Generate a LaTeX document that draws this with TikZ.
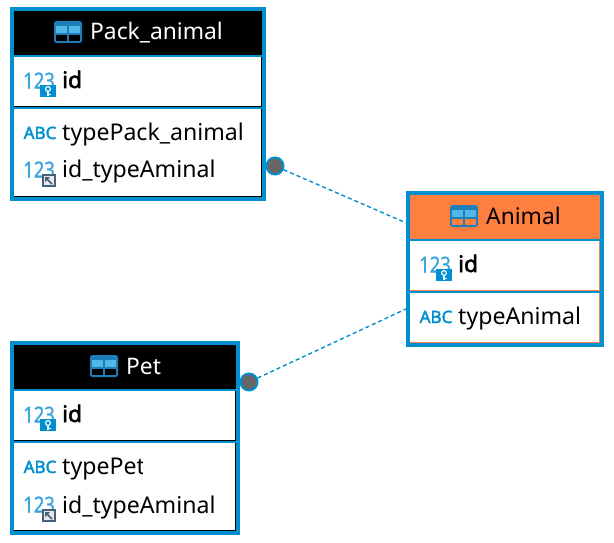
\documentclass[tikz,border=0pt]{standalone}
\usepackage{graphicx}
\usepackage{fontspec}
\setmainfont{Noto Sans}
\newfontfamily\heavyfont{Noto Sans}[FakeBold=2.2]
\newfontfamily\midfont{Noto Sans}[FakeBold=0.9]
\newcommand{\numtext}{\scalebox{0.84}[1]{123}}
\definecolor{frame}{HTML}{0090D0}
\definecolor{iconlight}{HTML}{4FB8E6}
\definecolor{icondark}{HTML}{1E7FB8}
\definecolor{numblue}{HTML}{3AA4DC}
\definecolor{headorange}{HTML}{FF7F3F}
\definecolor{dotgray}{HTML}{666666}
\definecolor{badgegray}{HTML}{4A5F7A}
\tikzset{
  entity/.style={draw=frame,line width=4pt,fill=frame,inner sep=0pt,rectangle},
  fieldtext/.style={anchor=base west,inner sep=0pt,font=\fontsize{23.1}{24}\selectfont,text=black},
  keytext/.style={anchor=base west,inner sep=0pt,font=\heavyfont\fontsize{22.8}{24}\selectfont,text=black},
  headtext/.style={anchor=base west,inner sep=0pt,font=\fontsize{22.8}{24}\selectfont},
  numicon/.style={anchor=base west,inner sep=0pt,text=numblue,font=\midfont\fontsize{22}{24}\selectfont},
  abcicon/.style={anchor=base west,inner sep=0pt,text=frame,font=\heavyfont\fontsize{17}{18}\selectfont},
  relation/.style={draw=frame,line width=1.4pt,dash pattern=on 4pt off 3pt},
  dot/.style={circle,draw=frame,line width=2pt,fill=dotgray,minimum size=17pt,inner sep=0pt},
}
% #1 left, #2 right, #3 outer top, #4 pane-3 bottom, #5 header fill, #6 rule colour
\newcommand{\panes}[6]{%
  \fill[#5] (#1,#3+4) rectangle (#2,#3+48);
  \fill[#6] (#1,#3+50) rectangle (#2,#3+100);
  \fill[white] (#1,#3+50) rectangle (#2-1,#3+99);
  \fill[#6] (#1,#3+102) rectangle (#2,#4);
  \fill[white] (#1,#3+102) rectangle (#2-1,#4-1);
}
% #1 x, #2 y (top-left), #3 inner cell colour
\newcommand{\tableicon}[3]{%
  \fill[icondark,rounded corners=2.5pt] (#1,#2) rectangle (#1+28,#2+22);
  \fill[iconlight] (#1+2,#2+5) rectangle (#1+13,#2+12);
  \fill[iconlight] (#1+15,#2+5) rectangle (#1+26,#2+12);
  \fill[#3] (#1+2,#2+14) rectangle (#1+13,#2+20);
  \fill[#3] (#1+15,#2+14) rectangle (#1+26,#2+20);
}
\newcommand{\keybadge}[2]{%
  \fill[frame] (#1,#2) rectangle (#1+16,#2+12);
  \draw[white,line width=1.2pt] (#1+8,#2+4) circle (2.4pt);
  \draw[white,line width=1.2pt] (#1+8,#2+6.5) -- (#1+8,#2+11) (#1+8,#2+9.5) -- (#1+10.5,#2+9.5);
}
\newcommand{\linkbadge}[2]{%
  \fill[badgegray] (#1,#2) rectangle (#1+14,#2+13);
  \fill[white!85!badgegray] (#1+2,#2+2) rectangle (#1+12,#2+11);
  \draw[badgegray,line width=1.5pt] (#1+4,#2+4) -- (#1+10,#2+10);
  \fill[badgegray] (#1+3,#2+3) -- (#1+8,#2+3) -- (#1+3,#2+8) -- cycle;
}
\begin{document}
\begin{tikzpicture}[x=1pt,y=-1pt]
\useasboundingbox (0,0) rectangle (614,543);

% outer frames
\node[entity,minimum width=252pt,minimum height=190pt] (pack) at (138,104) {};
\node[entity,minimum width=226pt,minimum height=190pt] (pet) at (125,438) {};
\node[entity,minimum width=194pt,minimum height=152pt] (animal) at (505,269) {};

\panes{14}{262}{7}{197}{black}{black}
\panes{14}{236}{341}{531}{black}{black}
\panes{410}{600}{191}{343}{headorange}{headorange}

% Pack_animal
\tableicon{54}{21}{black}
\node[headtext,text=white] (packtitle) at (90,40) {Pack\_animal};
\node[numicon] (packnum1) at (23,88.5) {\numtext};
\keybadge{40}{85}
\node[keytext] (packid) at (62,88) {id};
\node[abcicon] (packabc) at (23.5,139) {ABC};
\node[fieldtext] (packtype) at (62,140.5) {typePack\_animal};
\node[numicon] (packnum2) at (23,177.5) {\numtext};
\linkbadge{42}{174}
\node[fieldtext] (packfk) at (62,178) {id\_typeAminal};

% Pet
\tableicon{90}{355}{black}
\node[headtext,text=white] (pettitle) at (126,374) {Pet};
\node[numicon] (petnum1) at (23,422.5) {\numtext};
\keybadge{40}{419}
\node[keytext] (petid) at (62,422) {id};
\node[abcicon] (petabc) at (23.5,473) {ABC};
\begin{scope}
\clip (62,445) rectangle (142.5,485);
\node[fieldtext] (pettype) at (62,474.5) {typePet};
\end{scope}
\node[numicon] (petnum2) at (23,512.5) {\numtext};
\linkbadge{42}{509}
\node[fieldtext] (petfk) at (62,513) {id\_typeAminal};

% Animal
\tableicon{450}{205}{headorange}
\node[headtext] (animaltitle) at (486,224) {Animal};
\node[numicon] (animalnum) at (419,272.5) {\numtext};
\keybadge{436}{269}
\node[keytext] (animalid) at (458,272) {id};
\node[abcicon] (animalabc) at (419.5,323) {ABC};
\node[fieldtext] (animaltype) at (458,324.5) {typeAnimal};

% relations
\node[dot] (packdot) at (275,166) {};
\node[dot] (petdot) at (249,382) {};
\draw[relation] (packdot) -- (animal.155.6);
\draw[relation] (petdot) -- (animal.202.5);
\end{tikzpicture}
\end{document}
